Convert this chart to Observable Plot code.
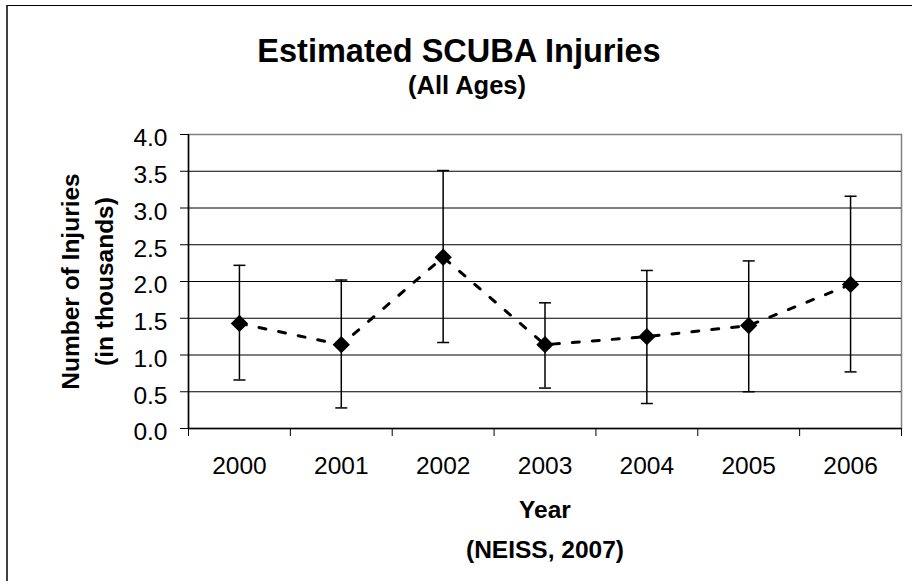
<!DOCTYPE html>
<html><head><meta charset="utf-8">
<script src="https://cdn.jsdelivr.net/npm/d3@7"></script>
<script src="https://cdn.jsdelivr.net/npm/@observablehq/plot@0.6"></script>
<style>
html,body{margin:0;padding:0;background:#fff;}
#wrap{position:relative;width:912px;height:581px;overflow:hidden;font-family:"Liberation Sans",Arial,sans-serif;}
#border{position:absolute;left:6px;top:5px;width:910px;height:580px;border-left:2px solid #404040;border-top:1.5px solid #000;}
.t{position:absolute;left:0;text-align:center;font-weight:bold;line-height:1;color:#000;white-space:nowrap;}
#title{font-size:32.5px;top:34.5px;width:918px;}
#subtitle{font-size:25.5px;top:73.4px;width:934px;}
#chart{position:absolute;left:0;top:100px;}
</style></head>
<body><div id="wrap"><div id="border"></div><div id="title" class="t">Estimated SCUBA Injuries</div><div id="subtitle" class="t">(All Ages)</div><div id="chart"></div></div>
<script>
const years = [2000, 2001, 2002, 2003, 2004, 2005, 2006];
const values = [1.43, 1.14, 2.33, 1.14, 1.25, 1.40, 1.96];
const lower = [0.66, 0.28, 1.17, 0.55, 0.34, 0.50, 0.77];
const upper = [2.22, 2.02, 3.51, 1.71, 2.15, 2.28, 3.16];
const yTicks = [0, 0.5, 1.0, 1.5, 2.0, 2.5, 3.0, 3.5, 4.0];
const gridTicks = [0.5, 1.0, 1.5, 2.0, 2.5, 3.0, 3.5];
const yTitle = ["Number of Injuries", "(in thousands)"];
const xTitle = ["Year", "(NEISS, 2007)"];

const rows = years.map((year, i) => ({year, value: values[i], lo: lower[i], hi: upper[i]}));
const boundaries = [years[0] - 0.5, ...years.map(y => y + 0.5)];

const cap = {draw(context, size) { const w = Math.sqrt(size / Math.PI); context.moveTo(-w, 0); context.lineTo(w, 0); }};
const font = "Liberation Sans, Arial, sans-serif";

const plot = Plot.plot({
  width: 912, height: 481,
  marginTop: 34, marginBottom: 153, marginLeft: 188, marginRight: 11,
  style: {fontFamily: font, fontSize: "24.5px", color: "#000", background: "transparent", overflow: "visible"},
  x: {type: "linear", domain: [boundaries[0], boundaries[boundaries.length - 1]]},
  y: {domain: [0, 4]},
  marks: [
    Plot.frame({stroke: "#808080", strokeWidth: 1.5}),
    Plot.gridY(gridTicks, {stroke: "#000", strokeOpacity: 1, strokeWidth: 1}),
    Plot.axisY(yTicks, {tickSize: 8, tickFormat: () => "", label: null, stroke: "#000"}),
    Plot.axisY(yTicks, {tickSize: 0, tickPadding: 21, dy: 4, tickFormat: d => d.toFixed(1), fontSize: 24.5, label: null}),
    Plot.axisX(boundaries, {tickSize: 8, tickFormat: () => "", label: null, stroke: "#000"}),
    Plot.axisX(years, {tickSize: 0, tickPadding: 28, tickFormat: d => String(d), fontSize: 24.5, label: null}),
    Plot.ruleX([boundaries[0]], {stroke: "#000", strokeWidth: 1.5}),
    Plot.ruleY([0], {stroke: "#000", strokeWidth: 1.5}),
    Plot.ruleX(rows, {x: "year", y1: "lo", y2: "hi", stroke: "#000", strokeWidth: 1.5}),
    Plot.dot(rows, {x: "year", y: "lo", symbol: cap, r: 6, stroke: "#000", strokeWidth: 1.5}),
    Plot.dot(rows, {x: "year", y: "hi", symbol: cap, r: 6, stroke: "#000", strokeWidth: 1.5}),
    Plot.line(rows, {x: "year", y: "value", stroke: "#000", strokeWidth: 3, strokeDasharray: "7,13"}),
    Plot.dot(rows, {x: "year", y: "value", symbol: "diamond2", r: 7.8, fill: "#000", stroke: "none"}),
    Plot.text([yTitle[0]], {text: d => d, frameAnchor: "left", textAnchor: "middle", lineAnchor: "middle", rotate: -90, dx: -117.5, fontWeight: "bold", fontSize: 24.5}),
    Plot.text([yTitle[1]], {text: d => d, frameAnchor: "left", textAnchor: "middle", lineAnchor: "middle", rotate: -90, dx: -83.2, fontWeight: "bold", fontSize: 24.5}),
    Plot.text([xTitle[0]], {text: d => d, frameAnchor: "bottom", textAnchor: "middle", lineAnchor: "middle", dy: 82, fontWeight: "bold", fontSize: 24.5}),
    Plot.text([xTitle[1]], {text: d => d, frameAnchor: "bottom", textAnchor: "middle", lineAnchor: "middle", dy: 122, fontWeight: "bold", fontSize: 24.5})
  ]
});
document.getElementById("chart").appendChild(plot);
</script></body></html>
